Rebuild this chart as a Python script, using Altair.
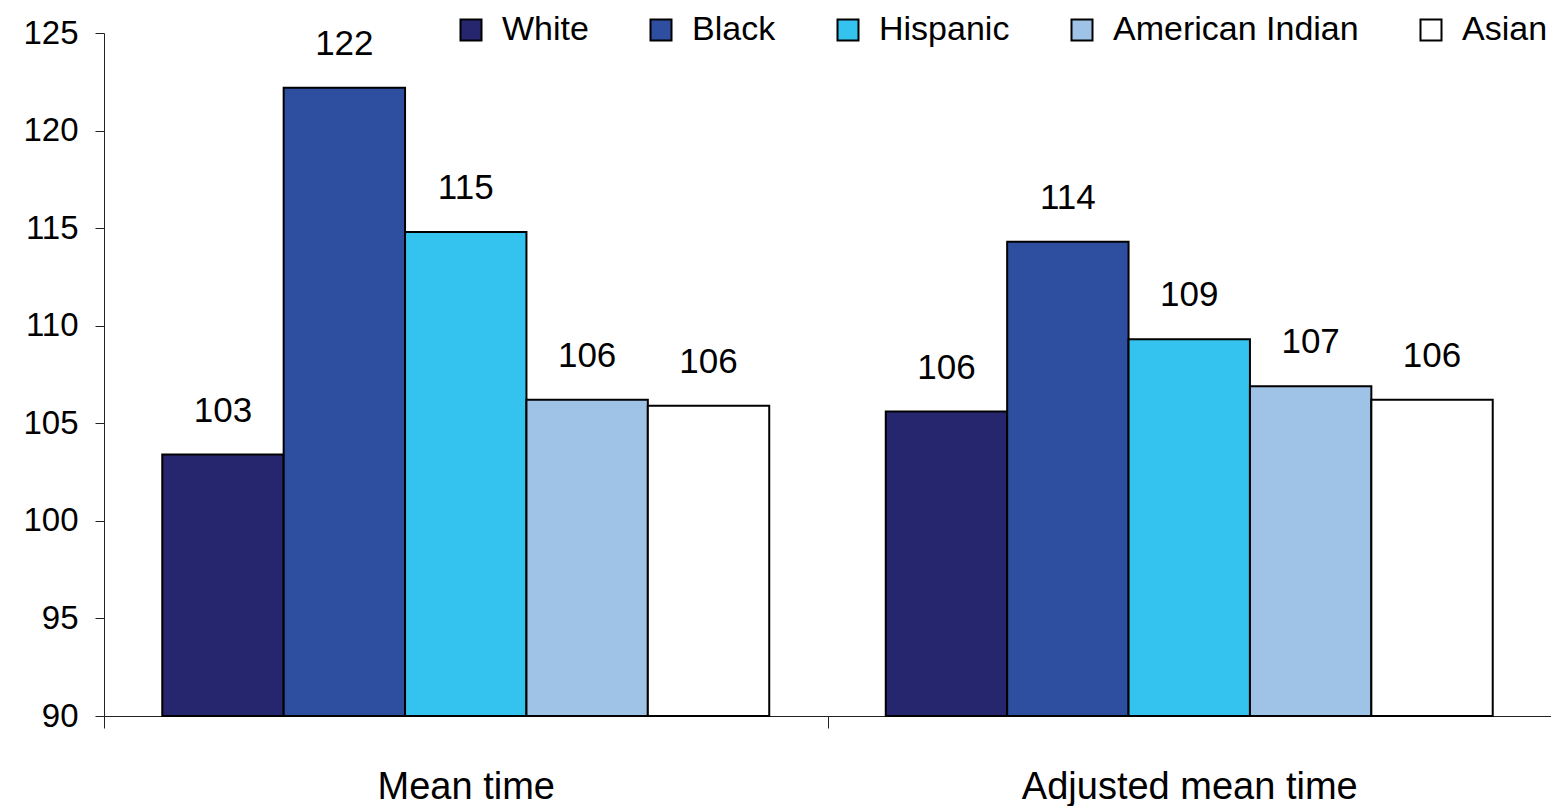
import altair as alt
import pandas as pd

# ---- data ----
categories = ["Mean time", "Adjusted mean time"]
groups = ["White", "Black", "Hispanic", "American Indian", "Asian"]
mean_time = [103.4, 122.2, 114.8, 106.2, 105.9]
adjusted_mean_time = [105.6, 114.3, 109.3, 106.9, 106.2]
group_colors = ["#26266E", "#2E4FA0", "#33C3EE", "#9EC3E6", "#FFFFFF"]
y_ticks = [90, 95, 100, 105, 110, 115, 120, 125]

rows = []
for cat, vals in zip(categories, [mean_time, adjusted_mean_time]):
    for g, v in zip(groups, vals):
        rows.append({"category": cat, "group": g, "value": v})
df = pd.DataFrame(rows)

FONT = "Liberation Sans"

x_enc = alt.X(
    "category:N",
    sort=categories,
    title=None,
    scale=alt.Scale(paddingInner=0, paddingOuter=0),
    axis=alt.Axis(
        labelAngle=0,
        labelFont=FONT,
        labelFontSize=38,
        labelColor="black",
        labelLimit=0,
        tickBand="extent",
        tickSize=12,
        tickColor="#222222",
        domainColor="#222222",
        labelPadding=40,
    ),
)
xoff_enc = alt.XOffset(
    "group:N", sort=groups, scale=alt.Scale(paddingInner=0, paddingOuter=0.48)
)
y_enc = alt.Y(
    "value:Q",
    title=None,
    scale=alt.Scale(domain=[90, 125], nice=False, zero=False),
    axis=alt.Axis(
        values=y_ticks,
        grid=False,
        tickSize=9,
        tickColor="#222222",
        domainColor="#222222",
        labelFont=FONT,
        labelFontSize=33,
        labelColor="black",
        labelPadding=17,
    ),
)

bars = alt.Chart(df).mark_bar(stroke="black", strokeWidth=2).encode(
    x=x_enc,
    xOffset=xoff_enc,
    y=y_enc,
    y2=alt.datum(90),
    color=alt.Color(
        "group:N",
        sort=groups,
        scale=alt.Scale(domain=groups, range=group_colors),
        legend=alt.Legend(
            title=None,
            orient="none",
            direction="horizontal",
            legendX=350,
            legendY=-20,
            symbolType="square",
            symbolSize=441,
            symbolStrokeColor="black",
            symbolStrokeWidth=2,
            symbolOpacity=1,
            labelFont=FONT,
            labelFontSize=34,
            labelColor="black",
            labelLimit=0,
            labelOffset=14,
            columnPadding=55,
        ),
    ),
)

labels = alt.Chart(df).mark_text(
    baseline="alphabetic", dy=-33, font=FONT, fontSize=35, color="black"
).encode(
    x=alt.X("category:N", sort=categories),
    xOffset=alt.XOffset("group:N", sort=groups),
    y=alt.Y("value:Q"),
    text=alt.Text("value:Q", format=".0f"),
)

chart = (
    alt.layer(bars, labels)
    .properties(
        width=1447,
        height=683,
        autosize=alt.AutoSizeParams(type="none"),
        padding={"left": 96, "top": 25, "right": 0, "bottom": 90},
        background="white",
    )
    .configure_view(stroke=None)
)

chart.save("out.html", embed_options={"renderer": "svg", "actions": False})
